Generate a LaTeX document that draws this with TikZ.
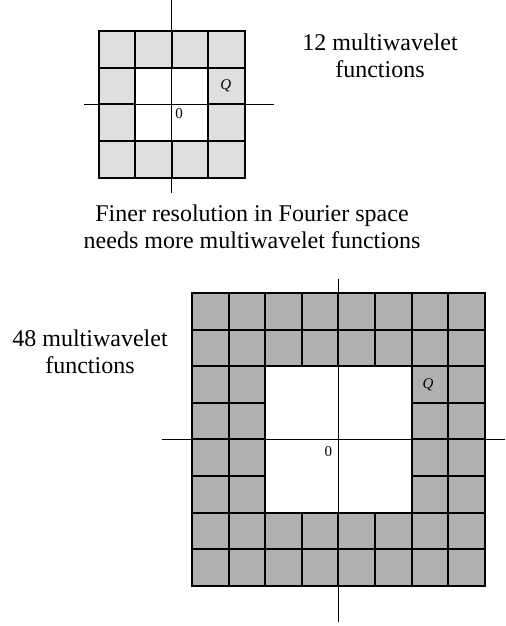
\documentclass[tikz,border=0pt]{standalone}
\usepackage{fontspec}
\setmainfont{Liberation Serif}
\usetikzlibrary{positioning}

\begin{document}
\begin{tikzpicture}[x=0.5pt, y=-0.5pt,
    cell/.style={draw=black, line width=1pt},
    axis/.style={draw=black, line width=0.5pt},
    caption/.style={align=center, font=\fontsize{12}{13.5}\selectfont},
    tag/.style={inner sep=0pt, font=\fontsize{7.5}{9}\selectfont}]
  \useasboundingbox (0,0) rectangle (505,626);

  % Coarse grid
  \begin{scope}[shift={(171.7,104.3)}, x=18.3pt, y=18.3pt]
    \foreach \c in {-2,...,1} \foreach \r in {-2,1}
      \draw[cell, fill=gray!25] (\c,\r) rectangle ++(1,1);
    \foreach \c in {-2,1} \foreach \r in {-1,0}
      \draw[cell, fill=gray!25] (\c,\r) rectangle ++(1,1);
    \draw[axis] (-2.4,0) -- (2.8,0);
    \draw[axis] (0,-2.42) -- (0,2.85);
    \node[tag] (q1) at (1.48,0.5) {\textit{Q}};
    \node[tag] (o1) at (0.2,-0.25) {0};
  \end{scope}

  % Fine grid
  \begin{scope}[shift={(338.3,439.3)}, x=18.3pt, y=18.3pt]
    \foreach \c in {-4,...,3} \foreach \r in {-4,-3,2,3}
      \draw[cell, fill=gray!62] (\c,\r) rectangle ++(1,1);
    \foreach \c in {-4,-3,2,3} \foreach \r in {-2,...,1}
      \draw[cell, fill=gray!62] (\c,\r) rectangle ++(1,1);
    \draw[axis] (-4.81,0) -- (4.55,0);
    \draw[axis] (0,-4.98) -- (0,4.37);
    \node[tag] (q2) at (2.45,1.49) {\textit{Q}};
    \node[tag] (o2) at (-0.27,-0.34) {0};
  \end{scope}

  \node[caption] (count1) at (380,56) {12 multiwavelet\\functions};
  \node[caption] (finer) at (252,227) {Finer resolution in Fourier space\\needs more multiwavelet functions};
  \node[caption] (count2) at (90,352) {48 multiwavelet\\functions};
\end{tikzpicture}
\end{document}
